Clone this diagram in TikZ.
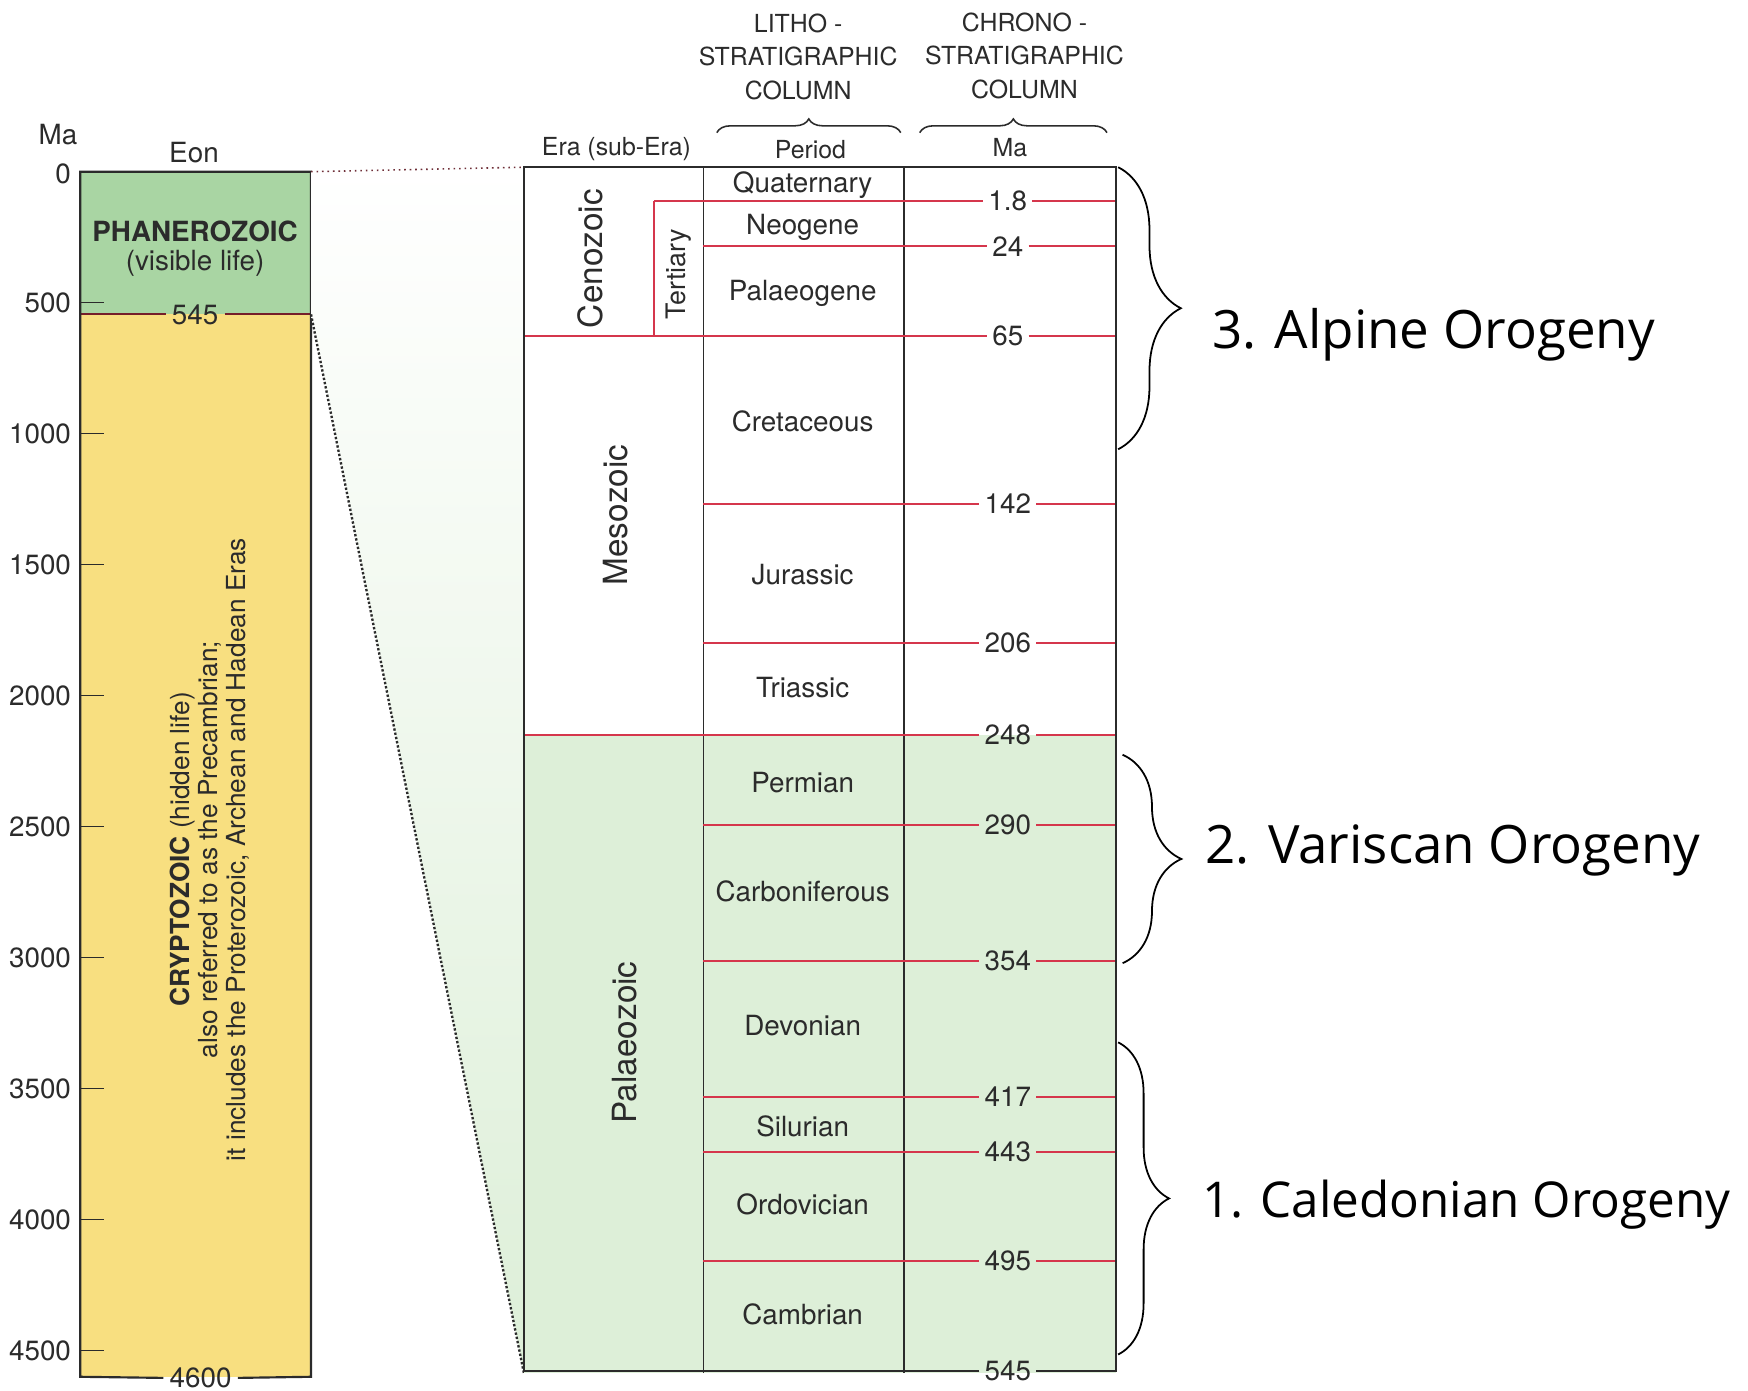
\documentclass[tikz,border=0pt]{standalone}
\usepackage{fontspec}
\setmainfont{TeX Gyre Heros}
\newfontfamily\orofont{Open Sans}
\usepackage{tikz}
\usetikzlibrary{decorations.pathreplacing, calc}
\definecolor{gsPhan}{HTML}{A9D5A3}
\definecolor{gsCrypto}{HTML}{F8DF80}
\definecolor{gsPaleo}{HTML}{DDEFD8}
\definecolor{gsRed}{HTML}{D5364C}
\definecolor{gsFrame}{HTML}{2B2B2B}

\begin{document}
\begin{tikzpicture}[x=0.02cm, y=-0.02cm,
  txt/.style={font=\fontsize{14.2}{17}\selectfont, inner sep=0pt, text=gsFrame},
  head/.style={font=\fontsize{12.7}{17}\selectfont, inner sep=0pt, align=center, text=gsFrame},
  era/.style={font=\fontsize{17}{20}\selectfont, rotate=90, inner sep=0pt, text=gsFrame},
  num/.style={font=\fontsize{14.2}{17}\selectfont, inner sep=2.5pt, text=gsFrame},
  oro/.style={font=\orofont\fontsize{#1}{32}\selectfont, anchor=base west, inner sep=0pt},
  frame/.style={draw=gsFrame, line width=1.1pt},
  cut/.style={gsRed, line width=1pt},
  orobrace/.style={draw=black, decorate, decoration={brace, amplitude=#1}, line width=0.9pt},
  colbrace/.style={draw=gsFrame, decorate, decoration={brace, amplitude=7pt}, line width=0.8pt}]
  \useasboundingbox (0,0) rectangle (1568,1247);

  % lewa kolumna — eony, skala 0--4600 Ma
  \fill[gsPhan] (72,154) rectangle (279,282);
  \fill[gsCrypto] (72,282) rectangle (279,1235);
  \node[txt] (lma) at (52,121) {Ma};
  \node[txt] (leon) at (174,137) {Eon};
  \node[txt, anchor=east] (ax0) at (64,156) {0};
  \foreach \t in {500,1000,...,4500}{
    \draw[gsFrame, line width=0.8pt] (72,{154+0.235*\t}) -- +(21,0);
    \node[txt, anchor=east] (ax\t) at (64,{154+0.235*\t}) {\t};
  }
  \node[txt, inner sep=3pt] (l545) at (175,282) {545};
  \node[txt, inner sep=3pt] (l4600) at (180,1236) {4600};
  \draw[gsRed!55!black, line width=1pt] (72,282) -- (l545.west) (l545.east) -- (279,282);
  \draw[frame] (l4600.west) -- (72,1235) -- (72,154) -- (279,154) -- (279,1235) -- (l4600.east);
  \node[txt, align=center, font=\fontsize{14.2}{14.4}\selectfont] (phan) at (175,223)
    {\textbf{PHANEROZOIC}\\(visible life)};
  \node[txt, rotate=90, align=center, font=\fontsize{13.4}{14.3}\selectfont] (crypt) at (188,762)
    {\textbf{CRYPTOZOIC} (hidden life)\\also referred to as the Precambrian;\\it includes the Proterozoic, Archean and Hadean Eras};

  % powiększenie fanerozoiku
  \shade[top color=white, bottom color=gsPaleo] (279,154) -- (470,150) -- (470,1232) -- (279,282) -- cycle;
  \draw[gsRed!40!gsFrame, dotted, line width=0.8pt] (279,154) -- (470,150);
  \draw[gsFrame, densely dotted, line width=1.2pt] (279,282) -- (470,1232);

  % prawa tabela
  \fill[gsPaleo] (470,659) rectangle (1001,1232);
  \draw[gsFrame, line width=0.8pt] (631,150) -- (631,1232) (811,150) -- (811,1232);
  \draw[cut] (587,301) -- (587,180);
  \foreach \y/\lab/\x [count=\i] in {180/1.8/587, 221/24/631, 301/65/470, 452/142/631,
      577/206/631, 659/248/470, 740/290/631, 862/354/631, 984/417/631, 1033/443/631, 1131/495/631}{
    \node[num] (ma\i) at (904,\y) {\lab};
    \draw[cut] (\x,\y) -- (ma\i.west);
    \draw[cut] (ma\i.east) -- (1001,\y);
  }
  \node[num] (ma545) at (904,1230) {545};
  \draw[frame] (ma545.west) -- (470,1230) -- (470,150) -- (1001,150) -- (1001,1230) -- (ma545.east);

  % nazwy okresów i er
  \foreach \y/\name in {166/Quaternary, 204/Neogene, 263/Palaeogene, 378/Cretaceous, 515/Jurassic,
      617/Triassic, 702/Permian, 800/Carboniferous, 920/Devonian, 1010/Silurian, 1080/Ordovician, 1179/Cambrian}
    \node[txt] (p\name) at (720,\y) {\name};
  \node[era] (cen) at (530,232) {Cenozoic};
  \node[era, font=\fontsize{13.7}{16}\selectfont] (ter) at (609,246) {Tertiary};
  \node[era] (mes) at (552,462) {Mesozoic};
  \node[era] (pal) at (560,935) {Palaeozoic};

  % nagłówki
  \node[head] (hera) at (553,134) {Era (sub-Era)};
  \node[head] (hper) at (727,134) {Period};
  \node[head] (hma) at (906,132) {Ma};
  \node[head] (litho) at (716,51) {LITHO -\\STRATIGRAPHIC\\COLUMN};
  \node[head] (chrono) at (919,50) {CHRONO -\\STRATIGRAPHIC\\COLUMN};
  \draw[colbrace] (643,119) -- (808,119);
  \draw[colbrace] (825,119) -- (993,119);

  % orogenezy
  \draw[orobrace=32pt] (1003,150) -- (1003,403);
  \draw[orobrace=30pt] (1007,677) -- (1007,864);
  \draw[orobrace=26pt] (1003,935) -- (1003,1215);
  \node[oro=27] (alp) at (1087,313) {3. Alpine Orogeny};
  \node[oro=27] (var) at (1081,775) {2. Variscan Orogeny};
  \node[oro=25.2] (cal) at (1078,1092) {1. Caledonian Orogeny};
\end{tikzpicture}
\end{document}
